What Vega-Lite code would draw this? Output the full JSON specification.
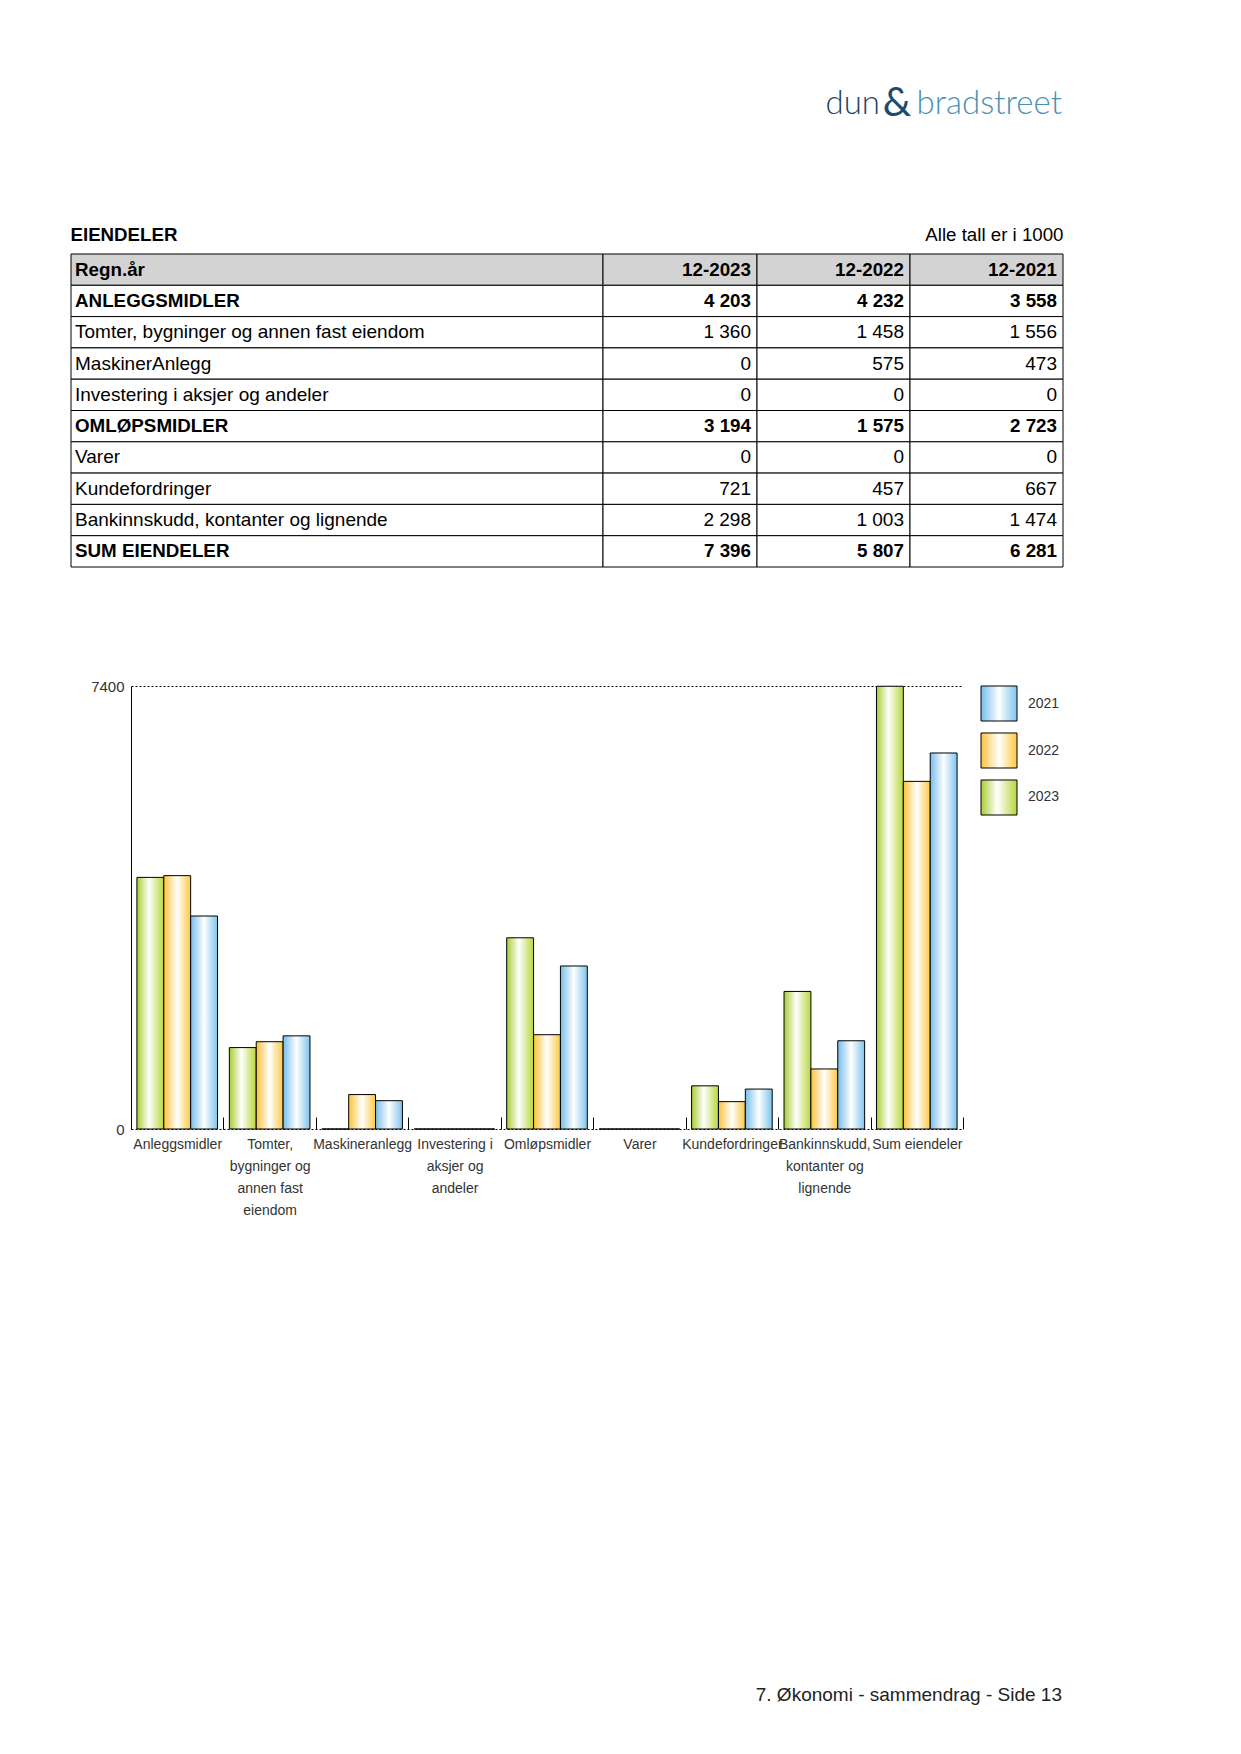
{
  "$schema": "https://vega.github.io/schema/vega-lite/v6.json",
  "padding": {"left": 70, "top": 76, "right": 20, "bottom": 10},
  "config": {"font": "Liberation Sans", "view": {"stroke": null}},
  "datasets": {
    "tabell": [
      {"rad": 0, "post": "Regn.år", "a": "12-2023", "b": "12-2022", "c": "12-2021", "fet": true, "hode": true},
      {"rad": 1, "post": "ANLEGGSMIDLER", "a": "4 203", "b": "4 232", "c": "3 558", "fet": true, "hode": false},
      {"rad": 2, "post": "Tomter, bygninger og annen fast eiendom", "a": "1 360", "b": "1 458", "c": "1 556", "fet": false, "hode": false},
      {"rad": 3, "post": "MaskinerAnlegg", "a": "0", "b": "575", "c": "473", "fet": false, "hode": false},
      {"rad": 4, "post": "Investering i aksjer og andeler", "a": "0", "b": "0", "c": "0", "fet": false, "hode": false},
      {"rad": 5, "post": "OMLØPSMIDLER", "a": "3 194", "b": "1 575", "c": "2 723", "fet": true, "hode": false},
      {"rad": 6, "post": "Varer", "a": "0", "b": "0", "c": "0", "fet": false, "hode": false},
      {"rad": 7, "post": "Kundefordringer", "a": "721", "b": "457", "c": "667", "fet": false, "hode": false},
      {"rad": 8, "post": "Bankinnskudd, kontanter og lignende", "a": "2 298", "b": "1 003", "c": "1 474", "fet": false, "hode": false},
      {"rad": 9, "post": "SUM EIENDELER", "a": "7 396", "b": "5 807", "c": "6 281", "fet": true, "hode": false}
    ],
    "balanse": [
      {"kategori": "Anleggsmidler", "år": "2023", "verdi": 4203},
      {"kategori": "Anleggsmidler", "år": "2022", "verdi": 4232},
      {"kategori": "Anleggsmidler", "år": "2021", "verdi": 3558},
      {"kategori": "Tomter, bygninger og annen fast eiendom", "år": "2023", "verdi": 1360},
      {"kategori": "Tomter, bygninger og annen fast eiendom", "år": "2022", "verdi": 1458},
      {"kategori": "Tomter, bygninger og annen fast eiendom", "år": "2021", "verdi": 1556},
      {"kategori": "Maskineranlegg", "år": "2023", "verdi": 0},
      {"kategori": "Maskineranlegg", "år": "2022", "verdi": 575},
      {"kategori": "Maskineranlegg", "år": "2021", "verdi": 473},
      {"kategori": "Investering i aksjer og andeler", "år": "2023", "verdi": 0},
      {"kategori": "Investering i aksjer og andeler", "år": "2022", "verdi": 0},
      {"kategori": "Investering i aksjer og andeler", "år": "2021", "verdi": 0},
      {"kategori": "Omløpsmidler", "år": "2023", "verdi": 3194},
      {"kategori": "Omløpsmidler", "år": "2022", "verdi": 1575},
      {"kategori": "Omløpsmidler", "år": "2021", "verdi": 2723},
      {"kategori": "Varer", "år": "2023", "verdi": 0},
      {"kategori": "Varer", "år": "2022", "verdi": 0},
      {"kategori": "Varer", "år": "2021", "verdi": 0},
      {"kategori": "Kundefordringer", "år": "2023", "verdi": 721},
      {"kategori": "Kundefordringer", "år": "2022", "verdi": 457},
      {"kategori": "Kundefordringer", "år": "2021", "verdi": 667},
      {"kategori": "Bankinnskudd, kontanter og lignende", "år": "2023", "verdi": 2298},
      {"kategori": "Bankinnskudd, kontanter og lignende", "år": "2022", "verdi": 1003},
      {"kategori": "Bankinnskudd, kontanter og lignende", "år": "2021", "verdi": 1474},
      {"kategori": "Sum eiendeler", "år": "2023", "verdi": 7396},
      {"kategori": "Sum eiendeler", "år": "2022", "verdi": 5807},
      {"kategori": "Sum eiendeler", "år": "2021", "verdi": 6281}
    ],
    "aar": [
      {"år": "2021"},
      {"år": "2022"},
      {"år": "2023"}
    ]
  },
  "spacing": 0,
  "bounds": "full",
  "vconcat": [
    {
      "width": 992, "height": 50,
      "data": {"values": [{}]},
      "layer": [
        {"mark": {"type": "text", "text": "bradstreet", "font": "Lato", "fontWeight": 300, "fontSize": 33, "color": "#4a91b4", "align": "right", "baseline": "alphabetic", "dy": -12, "dx": -1}, "encoding": {"x": {"value": "width"}, "y": {"value": "height"}}},
        {"mark": {"type": "text", "text": "&", "font": "Lato", "fontWeight": 400, "fontSize": 40, "color": "#1f4a6e", "align": "center", "baseline": "alphabetic", "dx": -166, "dy": -10}, "encoding": {"x": {"value": "width"}, "y": {"value": "height"}}},
        {"mark": {"type": "text", "text": "dun", "font": "Lato", "fontWeight": 300, "fontSize": 33, "color": "#1f4466", "align": "right", "baseline": "alphabetic", "dx": -183, "dy": -12}, "encoding": {"x": {"value": "width"}, "y": {"value": "height"}}}
      ]
    },
    {
      "width": 992, "height": 99,
      "data": {"values": [{}]},
      "mark": {"type": "text", "text": ""},
      "encoding": {}
    },
    {
      "hconcat": [
        {
          "width": 532, "height": 313,
          "title": {"text": "EIENDELER", "anchor": "start", "fontWeight": "bold", "fontSize": 18.7, "color": "black", "offset": 9},
          "data": {"name": "tabell"},
          "encoding": {"y": {"field": "rad", "type": "ordinal", "axis": null, "scale": {"paddingInner": 0, "paddingOuter": 0}}},
          "layer": [
            {"mark": {"type": "rect", "stroke": "black", "strokeWidth": 1}, "encoding": {"x": {"value": 0}, "x2": {"value": "width"}, "fill": {"condition": {"test": "datum.hode", "value": "#d3d3d3"}, "value": "white"}}},
            {"transform": [{"filter": "!datum.fet"}], "mark": {"type": "text", "align": "left", "baseline": "middle", "dx": 4, "fontSize": 19, "color": "black"}, "encoding": {"x": {"value": 0}, "text": {"field": "post", "type": "nominal"}}},
            {"transform": [{"filter": "datum.fet"}], "mark": {"type": "text", "align": "left", "baseline": "middle", "dx": 4, "fontSize": 18.8, "fontWeight": "bold", "color": "black"}, "encoding": {"x": {"value": 0}, "text": {"field": "post", "type": "nominal"}}}
          ]
        },
        {
          "width": 154, "height": 313,
          "data": {"name": "tabell"},
          "encoding": {"y": {"field": "rad", "type": "ordinal", "axis": null, "scale": {"paddingInner": 0, "paddingOuter": 0}}},
          "layer": [
            {"mark": {"type": "rect", "stroke": "black", "strokeWidth": 1}, "encoding": {"x": {"value": 0}, "x2": {"value": "width"}, "fill": {"condition": {"test": "datum.hode", "value": "#d3d3d3"}, "value": "white"}}},
            {"transform": [{"filter": "!datum.fet"}], "mark": {"type": "text", "align": "right", "baseline": "middle", "dx": -6, "fontSize": 19, "color": "black"}, "encoding": {"x": {"value": "width"}, "text": {"field": "a", "type": "nominal"}}},
            {"transform": [{"filter": "datum.fet"}], "mark": {"type": "text", "align": "right", "baseline": "middle", "dx": -6, "fontSize": 18.8, "fontWeight": "bold", "color": "black"}, "encoding": {"x": {"value": "width"}, "text": {"field": "a", "type": "nominal"}}}
          ]
        },
        {
          "width": 153, "height": 313,
          "data": {"name": "tabell"},
          "encoding": {"y": {"field": "rad", "type": "ordinal", "axis": null, "scale": {"paddingInner": 0, "paddingOuter": 0}}},
          "layer": [
            {"mark": {"type": "rect", "stroke": "black", "strokeWidth": 1}, "encoding": {"x": {"value": 0}, "x2": {"value": "width"}, "fill": {"condition": {"test": "datum.hode", "value": "#d3d3d3"}, "value": "white"}}},
            {"transform": [{"filter": "!datum.fet"}], "mark": {"type": "text", "align": "right", "baseline": "middle", "dx": -6, "fontSize": 19, "color": "black"}, "encoding": {"x": {"value": "width"}, "text": {"field": "b", "type": "nominal"}}},
            {"transform": [{"filter": "datum.fet"}], "mark": {"type": "text", "align": "right", "baseline": "middle", "dx": -6, "fontSize": 18.8, "fontWeight": "bold", "color": "black"}, "encoding": {"x": {"value": "width"}, "text": {"field": "b", "type": "nominal"}}}
          ]
        },
        {
          "width": 153, "height": 313,
          "title": {"text": "Alle tall er i 1000", "anchor": "end", "fontWeight": "normal", "fontSize": 18.7, "color": "black", "offset": 9},
          "data": {"name": "tabell"},
          "encoding": {"y": {"field": "rad", "type": "ordinal", "axis": null, "scale": {"paddingInner": 0, "paddingOuter": 0}}},
          "layer": [
            {"mark": {"type": "rect", "stroke": "black", "strokeWidth": 1}, "encoding": {"x": {"value": 0}, "x2": {"value": "width"}, "fill": {"condition": {"test": "datum.hode", "value": "#d3d3d3"}, "value": "white"}}},
            {"transform": [{"filter": "!datum.fet"}], "mark": {"type": "text", "align": "right", "baseline": "middle", "dx": -6, "fontSize": 19, "color": "black"}, "encoding": {"x": {"value": "width"}, "text": {"field": "c", "type": "nominal"}}},
            {"transform": [{"filter": "datum.fet"}], "mark": {"type": "text", "align": "right", "baseline": "middle", "dx": -6, "fontSize": 18.8, "fontWeight": "bold", "color": "black"}, "encoding": {"x": {"value": "width"}, "text": {"field": "c", "type": "nominal"}}}
          ]
        }
      ],
      "spacing": 0,
      "bounds": "flush"
    },
    {
      "width": 992, "height": 111,
      "data": {"values": [{}]},
      "mark": {"type": "text", "text": ""},
      "encoding": {}
    },
    {
      "hconcat": [
        {
          "width": 60, "height": 443,
          "data": {"values": [{}]},
          "mark": {"type": "text", "text": ""},
          "encoding": {}
        },
        {
          "width": 832, "height": 443,
          "data": {"name": "balanse"},
          "encoding": {
            "x": {
              "field": "kategori", "type": "nominal", "sort": null,
              "scale": {"paddingInner": 0, "paddingOuter": 0},
              "axis": {
                "title": null, "domain": false, "tickBand": "extent", "tickSize": -12, "tickColor": "black", "tickWidth": 1,
                "labelAngle": 0, "labelFontSize": 14, "labelColor": "#333333", "labelPadding": 20, "labelLineHeight": 22,
                "labelBaseline": "top", "labelOverlap": false, "labelLimit": 200,
                "labelExpr": "datum.value == 'Tomter, bygninger og annen fast eiendom' ? ['Tomter,', 'bygninger og', 'annen fast', 'eiendom'] : datum.value == 'Investering i aksjer og andeler' ? ['Investering i', 'aksjer og', 'andeler'] : datum.value == 'Bankinnskudd, kontanter og lignende' ? ['Bankinnskudd,', 'kontanter og', 'lignende'] : datum.label"
              }
            },
            "xOffset": {"field": "år", "type": "nominal", "scale": {"domain": ["2023", "2022", "2021"], "paddingInner": 0, "paddingOuter": 0.22}},
            "y": {
              "field": "verdi", "type": "quantitative",
              "scale": {"domain": [0, 7400], "nice": false, "zero": true},
              "axis": {
                "title": null, "values": [0, 7400], "format": "d", "grid": true, "gridDash": [2, 2], "gridColor": "black", "gridWidth": 1, "gridOpacity": 1,
                "ticks": false, "domain": true, "domainColor": "black", "domainWidth": 1,
                "labelFontSize": 15, "labelColor": "#333333", "labelPadding": 7
              }
            }
          },
          "layer": [
            {
              "transform": [{"filter": "datum['år'] == '2023'"}],
              "mark": {"type": "bar", "stroke": "black", "strokeWidth": 1, "fill": {"gradient": "linear", "x1": 0, "y1": 0, "x2": 1, "y2": 0, "stops": [{"offset": 0, "color": "#a8cd30"}, {"offset": 0.45, "color": "#ffffff"}, {"offset": 1, "color": "#b7d63c"}]}}
            },
            {
              "transform": [{"filter": "datum['år'] == '2022'"}],
              "mark": {"type": "bar", "stroke": "black", "strokeWidth": 1, "fill": {"gradient": "linear", "x1": 0, "y1": 0, "x2": 1, "y2": 0, "stops": [{"offset": 0, "color": "#fcc23a"}, {"offset": 0.5, "color": "#ffffff"}, {"offset": 1, "color": "#fdc844"}]}}
            },
            {
              "transform": [{"filter": "datum['år'] == '2021'"}],
              "mark": {"type": "bar", "stroke": "black", "strokeWidth": 1, "fill": {"gradient": "linear", "x1": 0, "y1": 0, "x2": 1, "y2": 0, "stops": [{"offset": 0, "color": "#76bdeb"}, {"offset": 0.5, "color": "#ffffff"}, {"offset": 1, "color": "#7ec3ee"}]}}
            }
          ]
        },
        {
          "width": 18, "height": 129,
          "data": {"values": [{}]},
          "mark": {"type": "text", "text": ""},
          "encoding": {}
        },
        {
          "width": 36, "height": 129,
          "data": {"name": "aar"},
          "encoding": {
            "y": {"field": "år", "type": "ordinal", "axis": null, "scale": {"domain": ["2021", "2022", "2023"], "paddingInner": 0.255, "paddingOuter": 0}}
          },
          "layer": [
            {
              "transform": [{"filter": "datum['år'] == '2021'"}],
              "mark": {"type": "rect", "stroke": "black", "strokeWidth": 1, "fill": {"gradient": "linear", "x1": 0, "y1": 0, "x2": 1, "y2": 0, "stops": [{"offset": 0, "color": "#76bdeb"}, {"offset": 0.5, "color": "#ffffff"}, {"offset": 1, "color": "#7ec3ee"}]}},
              "encoding": {"x": {"value": 0}, "x2": {"value": "width"}}
            },
            {
              "transform": [{"filter": "datum['år'] == '2022'"}],
              "mark": {"type": "rect", "stroke": "black", "strokeWidth": 1, "fill": {"gradient": "linear", "x1": 0, "y1": 0, "x2": 1, "y2": 0, "stops": [{"offset": 0, "color": "#fcc23a"}, {"offset": 0.5, "color": "#ffffff"}, {"offset": 1, "color": "#fdc844"}]}},
              "encoding": {"x": {"value": 0}, "x2": {"value": "width"}}
            },
            {
              "transform": [{"filter": "datum['år'] == '2023'"}],
              "mark": {"type": "rect", "stroke": "black", "strokeWidth": 1, "fill": {"gradient": "linear", "x1": 0, "y1": 0, "x2": 1, "y2": 0, "stops": [{"offset": 0, "color": "#a8cd30"}, {"offset": 0.45, "color": "#ffffff"}, {"offset": 1, "color": "#b7d63c"}]}},
              "encoding": {"x": {"value": 0}, "x2": {"value": "width"}}
            },
            {
              "mark": {"type": "text", "align": "left", "baseline": "middle", "dx": 11, "fontSize": 14, "color": "#333333"},
              "encoding": {"x": {"value": "width"}, "text": {"field": "år", "type": "nominal"}}
            }
          ]
        }
      ],
      "spacing": 0,
      "bounds": "flush"
    },
    {
      "width": 992, "height": 484,
      "data": {"values": [{}]},
      "mark": {"type": "text", "text": "7. Økonomi - sammendrag - Side 13", "align": "right", "baseline": "alphabetic", "fontSize": 19, "color": "#222222", "dx": -1},
      "encoding": {"x": {"value": "width"}, "y": {"value": "height"}}
    }
  ]
}
